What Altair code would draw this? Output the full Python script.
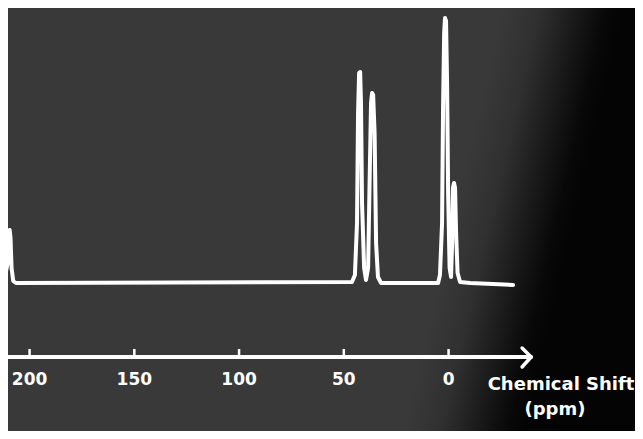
import altair as alt
import pandas as pd

# ---------------- data ----------------
# 13C NMR-like trace: chemical shift (ppm) and relative intensity
spec_ppm = [212.0, 210.5, 209.8, 209.5, 209.1, 208.6, 207.8, 206.5,
            46.1, 44.7, 43.7, 43.2, 42.7, 42.2, 41.8, 41.3, 40.3, 39.4,
            38.4, 37.7, 37.0, 36.5, 36.0, 35.3, 34.6, 33.7, 32.2,
            5.0, 4.1, 3.1, 2.6, 2.1, 1.7, 1.2, 0.7, 0.2, -0.5, -1.2,
            -1.7, -2.1, -2.6, -3.1, -3.6, -4.3, -5.5, -10.3, -30.8]
spec_int = [3, 20, 50, 53, 45, 15, 2, 0,
            1, 8, 60, 170, 210, 211, 180, 80, 15, 3,
            15, 100, 180, 190, 188, 150, 40, 6, 0,
            0, 8, 60, 180, 250, 265, 262, 200, 90, 15, 6,
            40, 95, 100, 95, 50, 10, 1, 0, -2]

tick_ppm = [200, 150, 100, 50, 0]
tick_labels = ["200", "150", "100", "50", "0"]

axis_ppm = [212.0, -39.4]            # axis line extent
arrow_ppm = [-35.1, -39.4, -35.1]    # arrow head
arrow_int = [-65, -74, -84]

title_lines = ["Chemical Shift", "(ppm)"]
title_ppm = [-53.7, -50.8]
title_int = [-102, -127]

# ---------------- layout constants ----------------
W, H = 627, 423
AXIS_LEVEL = -74
TICK_TOP = -66
LABEL_LEVEL = -97

xs = alt.Scale(domain=[210.3, -89.0], nice=False, zero=False)
ys = alt.Scale(domain=[-148, 275], nice=False, zero=False)

X = lambda f: alt.X(f, type="quantitative", scale=xs, axis=None)
Y = lambda f: alt.Y(f, type="quantitative", scale=ys, axis=None)

# background with dark shadow on the right
grad = alt.LinearGradient(
    gradient="linear",
    stops=[
        alt.GradientStop(color="#393939", offset=0),
        alt.GradientStop(color="#303030", offset=0.3),
        alt.GradientStop(color="#1a1a1a", offset=0.6),
        alt.GradientStop(color="#080808", offset=0.85),
        alt.GradientStop(color="#040404", offset=1),
    ],
    x1=0.71, y1=0.5, x2=0.90, y2=0.53,
)
bg = alt.Chart(pd.DataFrame({"a": [0]})).mark_rect(fill=grad).encode(
    x=alt.value(0), x2=alt.value(W), y=alt.value(0), y2=alt.value(H)
)

spec_df = pd.DataFrame({"ppm": spec_ppm, "v": spec_int, "i": range(len(spec_ppm))})
spectrum = alt.Chart(spec_df).mark_line(
    color="white", strokeWidth=4, strokeJoin="round", strokeCap="round", clip=True
).encode(x=X("ppm"), y=Y("v"), order=alt.Order("i:Q"))

axis_df = pd.DataFrame({"ppm": axis_ppm, "v": [AXIS_LEVEL] * len(axis_ppm)})
axis_line = alt.Chart(axis_df).mark_line(
    color="white", strokeWidth=4, strokeCap="round", clip=True
).encode(x=X("ppm"), y=Y("v"))

arrow_df = pd.DataFrame({"ppm": arrow_ppm, "v": arrow_int, "i": range(len(arrow_ppm))})
arrow = alt.Chart(arrow_df).mark_line(
    color="white", strokeWidth=3.5, strokeJoin="round", strokeCap="round"
).encode(x=X("ppm"), y=Y("v"), order=alt.Order("i:Q"))

tick_df = pd.DataFrame({
    "ppm": tick_ppm, "label": tick_labels,
    "top": [TICK_TOP] * len(tick_ppm), "bot": [AXIS_LEVEL] * len(tick_ppm),
    "lab": [LABEL_LEVEL] * len(tick_ppm),
})
ticks = alt.Chart(tick_df).mark_rule(color="white", strokeWidth=2.5).encode(
    x=X("ppm"), y=Y("top"), y2="bot"
)
labels = alt.Chart(tick_df).mark_text(
    color="white", font="DejaVu Sans", fontWeight="bold", fontSize=17,
    align="center", baseline="middle"
).encode(x=X("ppm"), y=Y("lab"), text="label:N")

title_df = pd.DataFrame({"t": title_lines, "ppm": title_ppm, "v": title_int})
title = alt.Chart(title_df).mark_text(
    color="white", font="DejaVu Sans", fontWeight="bold", fontSize=18,
    align="center", baseline="middle"
).encode(x=X("ppm"), y=Y("v"), text="t:N")

chart = alt.layer(bg, spectrum, axis_line, arrow, ticks, labels, title).properties(
    width=W, height=H, padding=0, background="#393939",
    autosize=alt.AutoSizeParams(type="none"),
).configure_view(stroke=None)

chart.save("out.html", embed_options={"renderer": "svg", "actions": False})
